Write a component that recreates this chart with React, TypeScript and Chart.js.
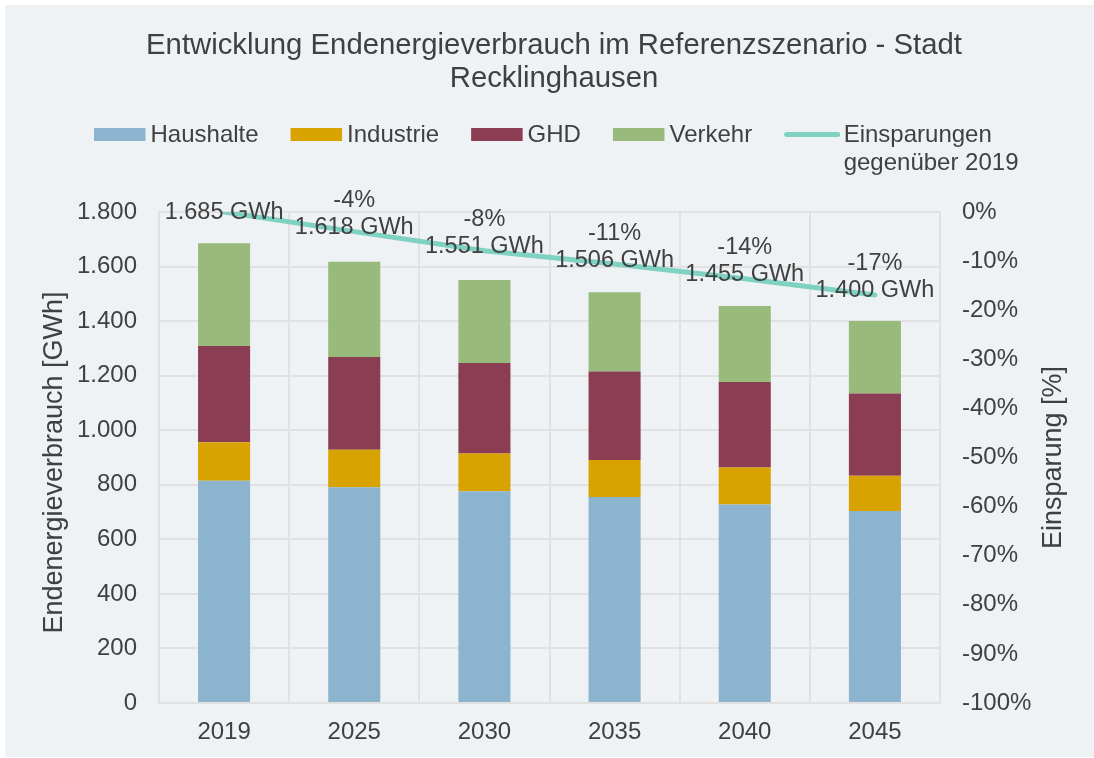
import React, { useEffect, useRef } from "react";
import { Chart, registerables } from "chart.js";

Chart.register(...registerables);

const categories = ["2019", "2025", "2030", "2035", "2040", "2045"];
const haushalte = [815, 791, 776, 755, 728, 704];
const industrie = [141, 137, 139, 136, 135, 129];
const ghd = [353, 340, 331, 324, 314, 302];
const verkehr = [376, 350, 305, 291, 278, 265];
const einsparung = [0, -4.0, -7.9, -10.6, -13.6, -16.9];

const seriesNames = ["Haushalte", "Industrie", "GHD", "Verkehr"];
const lineLegend = ["Einsparungen", "gegenüber 2019"];
const titleLines = [
  "Entwicklung Endenergieverbrauch im Referenzszenario - Stadt",
  "Recklinghausen",
];
const leftAxisTitle = "Endenergieverbrauch [GWh]";
const rightAxisTitle = "Einsparung [%]";

const FONT = "'Liberation Sans', Arial, Helvetica, sans-serif";
const TEXT = "#404040";
const GRID = "#e1e1e1";
const BG = "#eff2f5";
const barColors = ["#8db4cf", "#d8a300", "#8b3e53", "#98bb7c"];
const lineColor = "#7fd1c1";

const fmtThousands = (v: number) =>
  String(Math.round(v)).replace(/\B(?=(\d{3})+(?!\d))/g, ".");

const decorPlugin = {
  id: "decor",
  beforeDraw(chart: any) {
    const ctx = chart.ctx;
    ctx.save();
    ctx.fillStyle = "#ffffff";
    ctx.fillRect(0, 0, chart.width, chart.height);
    ctx.fillStyle = BG;
    ctx.fillRect(5, 5, chart.width - 5, chart.height - 6);
    ctx.restore();
  },
  afterDatasetsDraw(chart: any) {
    const ctx = chart.ctx;
    const lineIndex = chart.data.datasets.length - 1;
    const meta = chart.getDatasetMeta(lineIndex);
    ctx.save();
    ctx.font = `23.5px ${FONT}`;
    ctx.fillStyle = TEXT;
    ctx.textAlign = "center";
    ctx.textBaseline = "middle";
    meta.data.forEach((pt: any, i: number) => {
      const total = haushalte[i] + industrie[i] + ghd[i] + verkehr[i];
      const lines: string[] = [];
      const pct = Math.round(einsparung[i]);
      if (pct !== 0) lines.push(`${pct}%`);
      lines.push(`${fmtThousands(total)} GWh`);
      let y = pt.y - (lines.length > 1 ? 4 : -1);
      for (let k = lines.length - 1; k >= 0; k--) {
        ctx.fillText(lines[k], pt.x, y);
        y -= 27;
      }
    });
    ctx.restore();
  },
  afterDraw(chart: any) {
    const ctx = chart.ctx;
    ctx.save();
    // Title
    ctx.fillStyle = TEXT;
    ctx.font = `29.3px ${FONT}`;
    ctx.textAlign = "center";
    ctx.textBaseline = "alphabetic";
    titleLines.forEach((t, i) => ctx.fillText(t, 554, 53.5 + i * 33.7));

    // Legend
    ctx.font = `24px ${FONT}`;
    ctx.textAlign = "left";
    const base = 141.6;
    let x = 94;
    seriesNames.forEach((n, i) => {
      ctx.fillStyle = chart.data.datasets[i].backgroundColor;
      ctx.fillRect(x, 128, 51.5, 13);
      x += 51.5 + 5;
      ctx.fillStyle = TEXT;
      ctx.fillText(n, x, base);
      x += ctx.measureText(n).width + 32;
    });
    ctx.strokeStyle = chart.data.datasets[seriesNames.length].borderColor;
    ctx.lineWidth = 5;
    ctx.lineCap = "round";
    ctx.beginPath();
    ctx.moveTo(x + 2.5, 134.5);
    ctx.lineTo(x + 53.5, 134.5);
    ctx.stroke();
    x += 56 + 3.5;
    ctx.fillStyle = TEXT;
    lineLegend.forEach((t, j) => ctx.fillText(t, x, base + j * 28));

    // Axis titles
    ctx.font = `27px ${FONT}`;
    ctx.textAlign = "center";
    ctx.textBaseline = "middle";
    ctx.save();
    ctx.translate(55, 462.5);
    ctx.rotate(-Math.PI / 2);
    ctx.fillText(leftAxisTitle, 0, 0);
    ctx.restore();
    ctx.save();
    ctx.translate(1054, 457.5);
    ctx.rotate(-Math.PI / 2);
    ctx.fillText(rightAxisTitle, 0, 0);
    ctx.restore();
    ctx.restore();
  },
};

export default function App() {
  const canvasRef = useRef<HTMLCanvasElement | null>(null);

  useEffect(() => {
    document.body.style.margin = "0";
    document.body.style.overflow = "hidden";
    const canvas = canvasRef.current;
    if (!canvas) return;
    const barSets = [haushalte, industrie, ghd, verkehr].map((d, i) => ({
      type: "bar" as const,
      label: seriesNames[i],
      data: d,
      backgroundColor: barColors[i],
      borderWidth: 0,
      barPercentage: 0.4,
      categoryPercentage: 1.0,
      yAxisID: "y",
      order: 1,
    }));
    const chart = new Chart(canvas, {
      type: "bar",
      data: {
        labels: categories,
        datasets: [
          ...barSets,
          {
            type: "line" as const,
            label: lineLegend.join(" "),
            data: einsparung,
            borderColor: lineColor,
            backgroundColor: lineColor,
            borderWidth: 5,
            borderCapStyle: "round",
            borderJoinStyle: "round",
            pointRadius: 0,
            pointHoverRadius: 0,
            tension: 0,
            fill: false,
            yAxisID: "y1",
            order: 0,
          } as any,
        ],
      },
      options: {
        responsive: false,
        animation: false,
        devicePixelRatio: 1,
        layout: { padding: { top: 212, left: 0, right: 0, bottom: 0 } },
        plugins: {
          legend: { display: false },
          title: { display: false },
          tooltip: { enabled: false },
        },
        scales: {
          x: {
            stacked: true,
            grid: { color: GRID, lineWidth: 2, drawTicks: false, offset: true },
            border: { color: GRID, width: 2 },
            ticks: { color: TEXT, font: { family: FONT, size: 24 }, padding: 15 },
            afterFit(s: any) {
              s.height = 55;
            },
          },
          y: {
            stacked: true,
            position: "left",
            min: 0,
            max: 1800,
            grid: { color: GRID, lineWidth: 2, drawTicks: false },
            border: { color: GRID, width: 2 },
            ticks: {
              stepSize: 200,
              padding: 22,
              color: TEXT,
              font: { family: FONT, size: 24 },
              callback: (v: any) => fmtThousands(Number(v)),
            },
            afterFit(s: any) {
              s.width = 159;
            },
          },
          y1: {
            position: "right",
            min: -100,
            max: 0,
            grid: { display: false, drawTicks: false },
            border: { display: false },
            ticks: {
              stepSize: 10,
              padding: 22,
              color: TEXT,
              font: { family: FONT, size: 24 },
              callback: (v: any) => `${Math.round(Number(v))}%`,
            },
            afterFit(s: any) {
              s.width = 154;
            },
          },
        },
      } as any,
      plugins: [decorPlugin],
    });
    return () => chart.destroy();
  }, []);

  return (
    <canvas
      ref={canvasRef}
      width={1094}
      height={758}
      style={{ display: "block", width: 1094, height: 758 }}
    />
  );
}
